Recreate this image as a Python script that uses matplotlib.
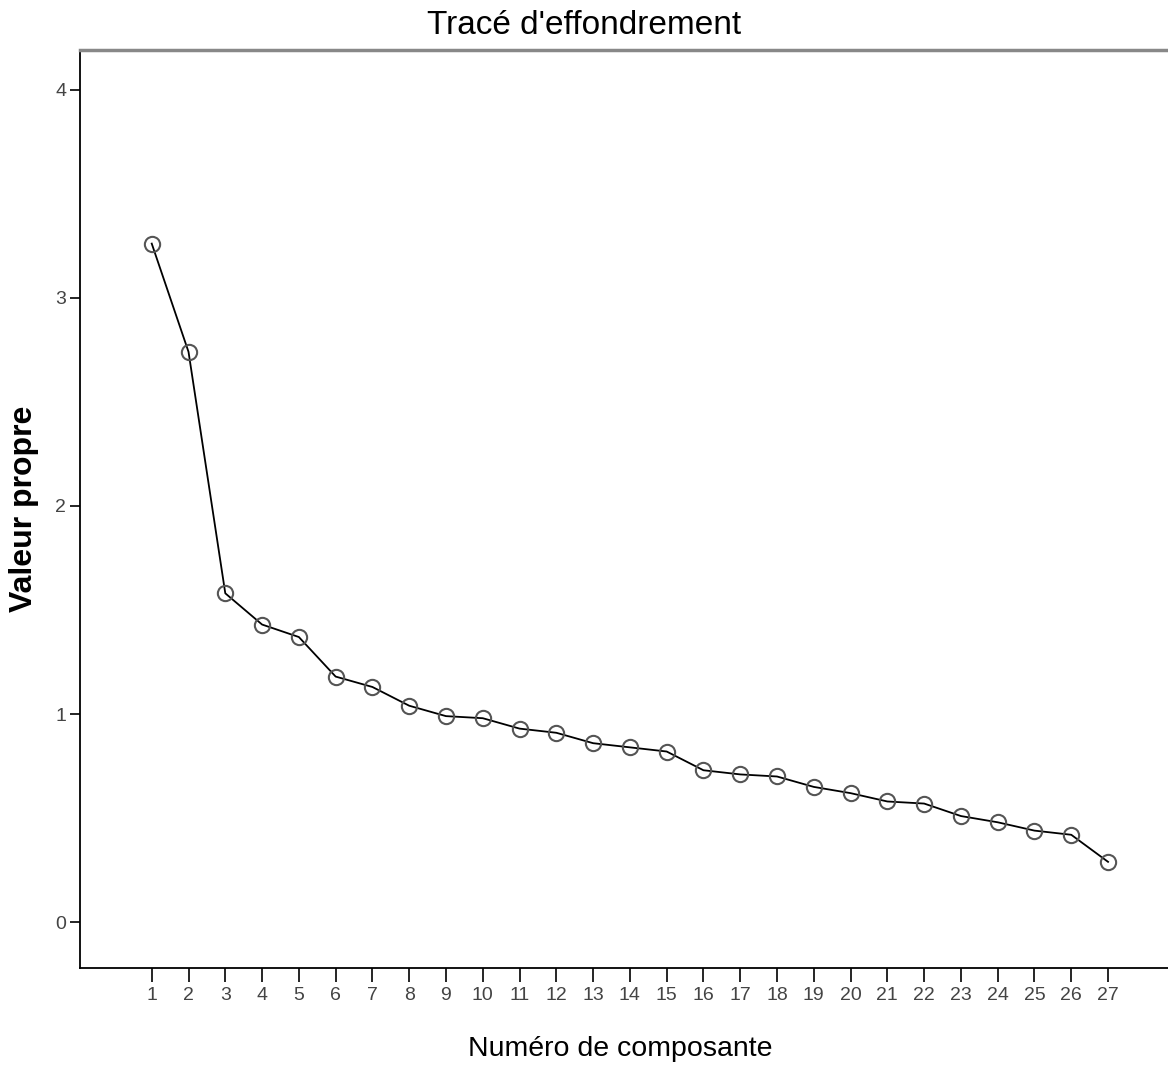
import matplotlib
matplotlib.use('Agg')
import matplotlib.pyplot as plt

plt.rcParams['font.family'] = ['Liberation Sans', 'DejaVu Sans']

# Eigenvalues
composantes = list(range(1, 28))
valeurs = [3.26, 2.74, 1.58, 1.43, 1.37, 1.18, 1.13, 1.04, 0.99, 0.98,
           0.93, 0.91, 0.86, 0.84, 0.82, 0.73, 0.71, 0.70, 0.65, 0.62,
           0.58, 0.57, 0.51, 0.48, 0.44, 0.42, 0.29]
y_ticks = [0, 1, 2, 3, 4]

fig = plt.figure(figsize=(11.68, 10.8), dpi=100)
ax = fig.add_axes([0.0685, 0.1037, 0.94, 0.85])

ax.plot(composantes, valeurs, color='black', linewidth=1.3, zorder=2)
ax.plot(composantes, valeurs, linestyle='none', marker='o', markersize=11,
        markerfacecolor='none', markeredgecolor='#555555', markeredgewidth=1.5, zorder=3)

ax.set_xlim(-0.95, 28.9)
ax.set_ylim(-0.22, 4.19)
ax.set_xticks(composantes)
ax.set_yticks(y_ticks)
ax.tick_params(axis='x', direction='out', length=10, width=1.2, labelsize=14,
               labelcolor='#444444', pad=4)
ax.tick_params(axis='y', direction='out', length=7, width=1.2, labelsize=14,
               labelcolor='#444444', pad=3)

for side in ['left', 'bottom']:
    ax.spines[side].set_color('black')
    ax.spines[side].set_linewidth(1.3)
ax.spines['top'].set_color('#888888')
ax.spines['top'].set_linewidth(2.5)
ax.spines['right'].set_visible(False)

ax.set_xlabel('Numéro de composante', fontsize=20.5)
ax.xaxis.set_label_coords(0.492, -0.074)
ax.set_ylabel('Valeur propre', fontsize=23, fontweight='bold')
ax.yaxis.set_label_coords(-0.037, 0.5)
fig.suptitle("Tracé d'effondrement", fontsize=24, y=0.991)

fig.savefig('out.png', dpi=100, facecolor='white')
